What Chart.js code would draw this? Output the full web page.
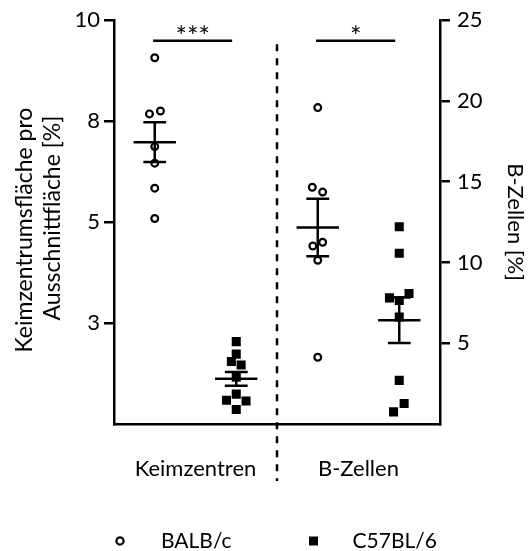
<!DOCTYPE html>
<html>
<head>
<meta charset="utf-8">
<script src="https://cdn.jsdelivr.net/npm/chart.js@4.4.1/dist/chart.umd.min.js"></script>
<style>
  html, body { margin: 0; padding: 0; background: #fff; }
  #wrap { width: 529px; height: 551px; }
</style>
</head>
<body>
<div id="wrap"><canvas id="c" width="529" height="551"></canvas></div>
<script>
// Categories and strains
const groups = ['Keimzentren', 'B-Zellen'];
const strains = ['BALB/c', 'C57BL/6'];
const leftTitle = ['Keimzentrumsfläche pro', 'Ausschnittfläche [%]'];
const rightTitle = 'B-Zellen [%]';

// Keimzentrumsfläche pro Ausschnittfläche [%] (left axis)
const gcBalb = [9.07, 7.68, 7.75, 6.87, 6.46, 5.84, 5.09];
const gcC57  = [2.04, 1.73, 1.55, 1.46, 1.16, 0.74, 0.59, 0.57, 0.36];

// B-Zellen [%] (right axis)
const bBalb = [19.59, 14.66, 14.36, 11.25, 11.02, 10.14, 4.13];
const bC57  = [12.21, 10.57, 7.81, 8.08, 7.65, 6.63, 2.70, 1.27, 0.75];

// sideways spread of overlapping points, in column widths
const gcBalbSpread = [0, -0.065, 0.07, 0, 0, 0, 0];
const gcC57Spread  = [0, 0, -0.06, 0.06, 0, 0, -0.12, 0.12, 0];
const bBalbSpread  = [0, -0.067, 0.06, 0.06, -0.06, 0, 0];
const bC57Spread   = [0, 0, -0.12, 0.12, 0, 0, 0, 0.06, -0.07];

// mean ± SEM per column (GC BALB/c, GC C57BL/6, B BALB/c, B C57BL/6)
const means = [6.98, 1.12, 12.17, 6.42];
const sems  = [0.49, 0.17, 1.78, 1.41];

// significance per group
const stars = ['***', '*'];

// tick values
const leftTicks  = [0, 2.5, 5, 7.5, 10];
const rightTicks = [0, 5, 10, 15, 20, 25];

const FONT = 'Lato';
Chart.defaults.font.family = FONT;
Chart.defaults.font.size = 21;
Chart.defaults.color = '#000';

function points(values, spread, column) {
  return values.map((v, i) => ({ x: column + 0.5 + spread[i], y: v }));
}

const openCircle = {
  pointStyle: 'circle', pointRadius: 3.4, pointHoverRadius: 3.4,
  pointBorderWidth: 2.2, pointBorderColor: '#000', pointBackgroundColor: 'rgba(0,0,0,0)',
  showLine: false
};
const filledSquare = {
  pointStyle: 'rect', pointRadius: 6.4, pointHoverRadius: 6.4,
  pointBorderWidth: 0, pointBorderColor: '#000', pointBackgroundColor: '#000',
  showLine: false
};

const columnAxis = ['y', 'y', 'y2', 'y2'];

// mean and SEM whiskers, drawn under the points
const summaryPlugin = {
  id: 'summary',
  beforeDatasetsDraw(chart) {
    const ctx = chart.ctx;
    const xs = chart.scales.x;
    ctx.save();
    ctx.strokeStyle = '#000';
    ctx.lineWidth = 2.5;
    ctx.lineCap = 'butt';
    means.forEach((m, i) => {
      const ys = chart.scales[columnAxis[i]];
      const c = i + 0.5;
      const yM = ys.getPixelForValue(m);
      const yHi = ys.getPixelForValue(m + sems[i]);
      const yLo = ys.getPixelForValue(m - sems[i]);
      ctx.beginPath();
      ctx.moveTo(xs.getPixelForValue(c - 0.26), yM);
      ctx.lineTo(xs.getPixelForValue(c + 0.26), yM);
      ctx.moveTo(xs.getPixelForValue(c), yHi);
      ctx.lineTo(xs.getPixelForValue(c), yLo);
      ctx.moveTo(xs.getPixelForValue(c - 0.14), yHi);
      ctx.lineTo(xs.getPixelForValue(c + 0.14), yHi);
      ctx.moveTo(xs.getPixelForValue(c - 0.14), yLo);
      ctx.lineTo(xs.getPixelForValue(c + 0.14), yLo);
      ctx.stroke();
    });
    ctx.restore();
  }
};

// group separator, group names, left axis title, significance brackets and the strain key
const annotationPlugin = {
  id: 'annotations',
  afterDraw(chart) {
    const ctx = chart.ctx;
    const xs = chart.scales.x;
    const ys = chart.scales.y;
    const area = chart.chartArea;
    ctx.save();
    ctx.strokeStyle = '#000';
    ctx.fillStyle = '#000';

    // dashed separator between groups
    const xSep = xs.getPixelForValue(2);
    ctx.lineWidth = 2.5;
    ctx.setLineDash([7, 7]);
    ctx.beginPath();
    ctx.moveTo(xSep, area.top + 24);
    ctx.lineTo(xSep, area.bottom + 57);
    ctx.stroke();
    ctx.setLineDash([]);

    // group names under the axis
    ctx.font = '22px ' + FONT;
    ctx.textAlign = 'center';
    ctx.textBaseline = 'middle';
    groups.forEach((g, i) => {
      ctx.fillText(g, xs.getPixelForValue(i * 2 + 1), area.bottom + 45);
    });

    // left axis title, two rotated lines
    ctx.save();
    ctx.font = '23px ' + FONT;
    ctx.translate(25, (area.top + area.bottom) / 2 + 8);
    ctx.rotate(-Math.PI / 2);
    ctx.fillText(leftTitle[0], 0, 0);
    ctx.restore();
    ctx.save();
    ctx.font = '23px ' + FONT;
    ctx.translate(53, (area.top + area.bottom) / 2 - 4);
    ctx.rotate(-Math.PI / 2);
    ctx.fillText(leftTitle[1], 0, 0);
    ctx.restore();

    // significance bars
    const yBar = ys.getPixelForValue(9.49);
    ctx.lineWidth = 2.5;
    stars.forEach((s, g) => {
      const x1 = xs.getPixelForValue(g * 2 + 0.5 - 0.02);
      const x2 = xs.getPixelForValue(g * 2 + 1.5 - 0.05);
      ctx.beginPath();
      ctx.moveTo(x1, yBar);
      ctx.lineTo(x2, yBar);
      ctx.stroke();
      ctx.font = '27px ' + FONT;
      ctx.textAlign = 'center';
      ctx.textBaseline = 'alphabetic';
      ctx.fillText(s, (x1 + x2) / 2, yBar + 5);
    });

    // strain key
    const yKey = area.bottom + 117;
    ctx.font = '21px ' + FONT;
    ctx.textAlign = 'left';
    ctx.textBaseline = 'middle';
    ctx.lineWidth = 2.2;
    ctx.beginPath();
    ctx.arc(120, yKey, 3.6, 0, Math.PI * 2);
    ctx.stroke();
    ctx.fillText(strains[0], 161, yKey);
    ctx.fillRect(313.5 - 4.5, yKey - 4.5, 9, 9);
    ctx.fillText(strains[1], 352.5, yKey);
    ctx.restore();
  }
};

function tickColor(ctx) {
  return ctx.tick && ctx.tick.value === 0 ? 'rgba(0,0,0,0)' : '#000';
}

new Chart(document.getElementById('c'), {
  type: 'scatter',
  data: {
    datasets: [
      Object.assign({ label: strains[0], data: points(gcBalb, gcBalbSpread, 0), yAxisID: 'y' }, openCircle),
      Object.assign({ label: strains[1], data: points(gcC57, gcC57Spread, 1), yAxisID: 'y' }, filledSquare),
      Object.assign({ label: strains[0], data: points(bBalb, bBalbSpread, 2), yAxisID: 'y2' }, openCircle),
      Object.assign({ label: strains[1], data: points(bC57, bC57Spread, 3), yAxisID: 'y2' }, filledSquare)
    ]
  },
  options: {
    responsive: false,
    animation: false,
    events: [],
    layout: { padding: { top: 16, bottom: 127, left: 0, right: 0 } },
    plugins: { legend: { display: false }, tooltip: { enabled: false } },
    scales: {
      x: {
        type: 'linear', position: 'bottom', min: 0, max: 4,
        afterFit(scale) { scale.height = 0; },
        ticks: { display: false },
        grid: { display: false, drawTicks: false },
        border: { display: true, color: '#000', width: 2.5 }
      },
      y: {
        type: 'linear', position: 'left', min: 0, max: 10,
        afterBuildTicks(scale) { scale.ticks = leftTicks.map(v => ({ value: v })); },
        afterFit(scale) { scale.width = 114; },
        ticks: {
          padding: 4,
          font: { size: 22 },
          callback(v) { return v === 0 ? '' : String(Math.round(v)); }
        },
        grid: { drawOnChartArea: false, drawTicks: true, tickLength: 10, lineWidth: 2.5, color: tickColor },
        border: { display: true, color: '#000', width: 2.5 }
      },
      y2: {
        type: 'linear', position: 'right', min: 0, max: 25,
        afterBuildTicks(scale) { scale.ticks = rightTicks.map(v => ({ value: v })); },
        afterFit(scale) { scale.width = 89; },
        ticks: {
          padding: 7,
          font: { size: 22 },
          callback(v) { return v === 0 ? '' : String(v); }
        },
        grid: { drawOnChartArea: false, drawTicks: true, tickLength: 10, lineWidth: 2.5, color: tickColor },
        border: { display: true, color: '#000', width: 2.5 },
        title: {
          display: true,
          text: rightTitle,
          font: { size: 22, lineHeight: 28 / 22 },
          padding: { top: 0, bottom: 0 }
        }
      }
    }
  },
  plugins: [summaryPlugin, annotationPlugin]
});
</script>
</body>
</html>
